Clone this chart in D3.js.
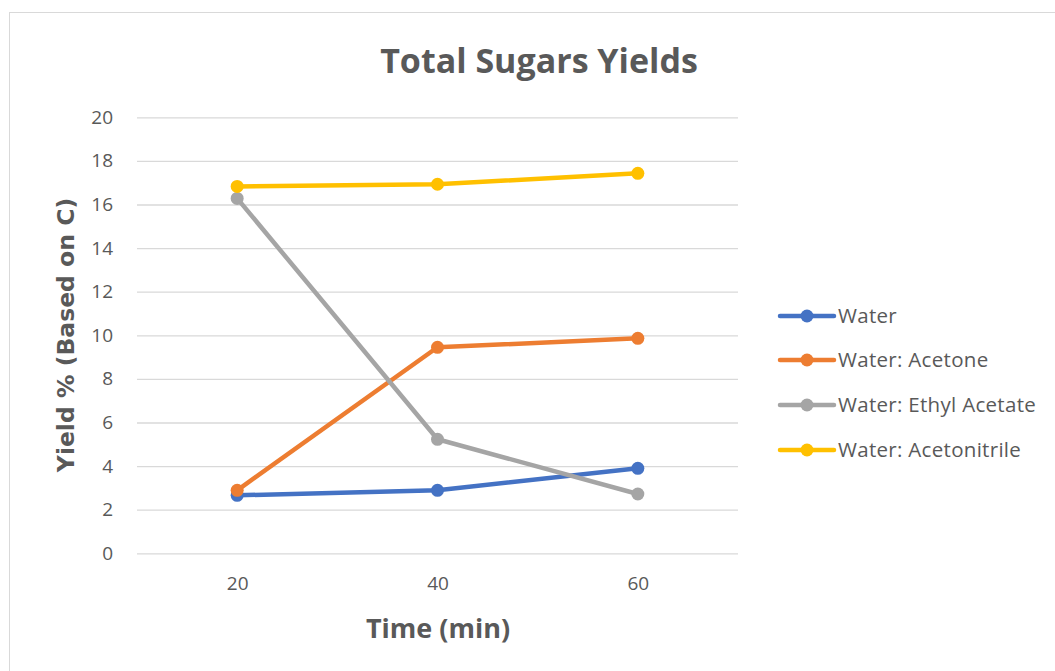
<!DOCTYPE html>
<html><head><meta charset="utf-8">
<script src="https://cdn.jsdelivr.net/npm/d3@7"></script>
<style>body{margin:0;background:#fff;} svg{display:block;}</style>
</head><body>
<svg id="c" width="1055" height="671"></svg>
<script>
const categories = ["20", "40", "60"];
const seriesNames = ["Water", "Water: Acetone", "Water: Ethyl Acetate", "Water: Acetonitrile"];
const water = [2.66, 2.89, 3.9];
const waterAcetone = [2.89, 9.45, 9.86];
const waterEthylAcetate = [16.28, 5.23, 2.72];
const waterAcetonitrile = [16.83, 16.93, 17.43];
const colors = ["#4472C4", "#ED7D31", "#A5A5A5", "#FFC000"];
const yTicks = [0, 2, 4, 6, 8, 10, 12, 14, 16, 18, 20];

const series = [water, waterAcetone, waterEthylAcetate, waterAcetonitrile];
const svg = d3.select("#c");
const font = "'Open Sans', 'Liberation Sans', sans-serif";

svg.append("rect").attr("x", 9.5).attr("y", 12.5).attr("width", 1100).attr("height", 700)
  .attr("fill", "#fff").attr("stroke", "#d9d9d9");

const pLeft = 137, pRight = 738, pTop = 117.3, pBottom = 553.3;
const x = d3.scalePoint().domain(categories).range([pLeft, pRight]).padding(0.5);
const y = d3.scaleLinear().domain([0, 20]).range([pBottom, pTop]);

// gridlines
const yAxis = d3.axisLeft(y).tickValues(yTicks).tickSize(-(pRight - pLeft)).tickPadding(24);
const gy = svg.append("g").attr("transform", `translate(${pLeft},0)`).call(yAxis);
gy.select(".domain").remove();
gy.selectAll(".tick line").attr("stroke", "#d9d9d9").attr("stroke-width", 1.3);
gy.selectAll(".tick text").attr("fill", "#595959").style("font-family", font).style("font-size", "19px");

const xAxis = d3.axisBottom(x).tickSize(0).tickPadding(23);
const gx = svg.append("g").attr("transform", `translate(0,${pBottom})`).call(xAxis);
gx.select(".domain").remove();
gx.selectAll(".tick text").attr("fill", "#595959").style("font-family", font).style("font-size", "19px");

const line = d3.line().x((d, i) => x(categories[i])).y(d => y(d));
series.forEach((s, k) => {
  svg.append("path").datum(s).attr("d", line).attr("fill", "none")
    .attr("stroke", colors[k]).attr("stroke-width", 4.5).attr("stroke-linejoin", "round");
  svg.selectAll(null).data(s).enter().append("circle")
    .attr("cx", (d, i) => x(categories[i])).attr("cy", d => y(d)).attr("r", 6.5)
    .attr("fill", colors[k]);
});

// title
svg.append("text").attr("x", 539).attr("y", 73).attr("text-anchor", "middle")
  .attr("fill", "#595959").style("font-family", font).style("font-weight", "bold").style("font-size", "34px")
  .text("Total Sugars Yields");
svg.append("text").attr("x", 438).attr("y", 638).attr("text-anchor", "middle")
  .attr("fill", "#595959").style("font-family", font).style("font-weight", "bold").style("font-size", "27px")
  .text("Time (min)");
svg.append("text").attr("transform", "translate(74,335) rotate(-90)").attr("text-anchor", "middle")
  .attr("fill", "#595959").style("font-family", "'DejaVu Sans', sans-serif").style("font-weight", "bold").style("font-size", "23.5px")
  .text("Yield % (Based on C)");

// legend
const legY = [316, 360, 405, 450];
seriesNames.forEach((n, k) => {
  const g = svg.append("g").attr("transform", `translate(0,${legY[k]})`);
  g.append("line").attr("x1", 780).attr("x2", 834).attr("y1", 0).attr("y2", 0)
    .attr("stroke", colors[k]).attr("stroke-width", 4.5).attr("stroke-linecap", "round");
  g.append("circle").attr("cx", 807).attr("cy", 0).attr("r", 6.5).attr("fill", colors[k]);
  g.append("text").attr("x", 838).attr("y", 7).attr("fill", "#595959")
    .style("font-family", font).style("font-size", "20.5px").style("letter-spacing", "0.3px").text(n);
});
</script>
</body></html>
